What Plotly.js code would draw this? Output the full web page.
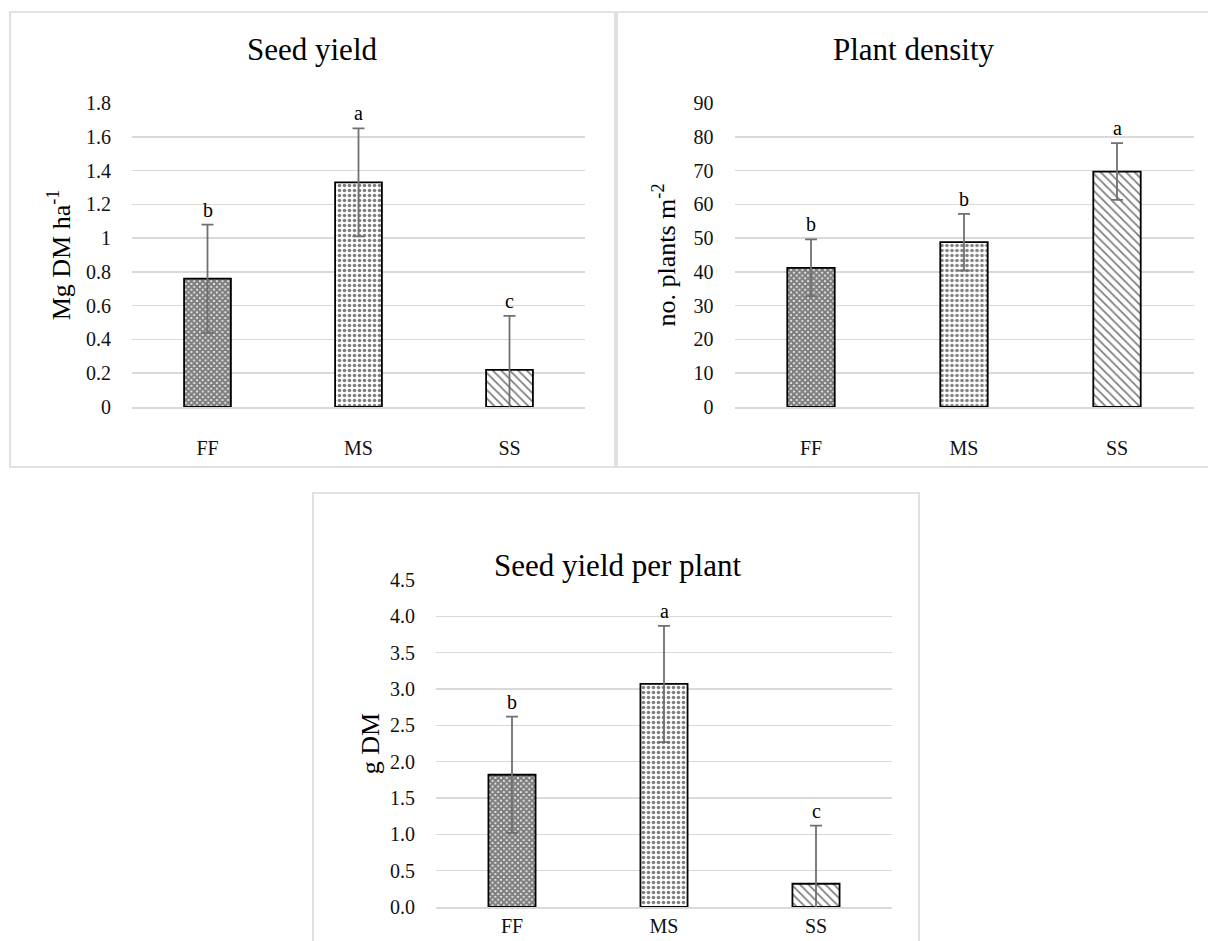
<!DOCTYPE html>
<html>
<head>
<meta charset="utf-8">
<script src="https://cdn.plot.ly/plotly-3.0.1.min.js"></script>
<style>
html,body{margin:0;padding:0;background:#fff;}
#chart{width:1208px;height:941px;}
</style>
</head>
<body>
<div id="chart"></div>
<script>
// ---- data ----
const categories = ["FF", "MS", "SS"];

const seedYield = [0.76, 1.33, 0.22];
const seedYieldErr = [0.32, 0.32, 0.32];
const seedYieldLetters = ["b", "a", "c"];

const plantDensity = [41.2, 48.8, 69.7];
const plantDensityErr = [8.4, 8.4, 8.4];
const plantDensityLetters = ["b", "b", "a"];

const seedPerPlant = [1.82, 3.07, 0.32];
const seedPerPlantErr = [0.8, 0.8, 0.8];
const seedPerPlantLetters = ["b", "a", "c"];

const panelTitles = ["Seed yield", "Plant density", "Seed yield per plant"];
const yTitles = ["Mg DM ha<sup>-1</sup>", "no. plants m<sup>-2</sup>", "g DM"];

// ---- styling ----
const W = 1208, H = 941;
const FONT = "'Liberation Serif', 'Times New Roman', serif";
const GRID = "#d9d9d9";
const px = v => v / W;
const py = v => 1 - v / H;

const patShapes = ["x", ".", "\\"];
const patSizes = [4, 5, 6];
const patSolid = [0.8, 0.4, 0.3];

function barTrace(vals, errs, xa, ya) {
  return {
    type: "bar",
    x: categories,
    y: vals,
    xaxis: xa, yaxis: ya,
    marker: {
      color: "#fff",
      line: {color: "#000", width: 1.8},
      pattern: {
        shape: patShapes, size: patSizes, solidity: patSolid,
        fgcolor: "#000", bgcolor: "#fff", fillmode: "overlay"
      }
    },
    error_y: {type: "data", array: errs, visible: true, color: "#707070", thickness: 1.8, width: 6},
    showlegend: false,
    hoverinfo: "skip"
  };
}

const data = [
  barTrace(seedYield, seedYieldErr, "x", "y"),
  barTrace(plantDensity, plantDensityErr, "x2", "y2"),
  barTrace(seedPerPlant, seedPerPlantErr, "x3", "y3")
];

function xaxisCfg(domain, anchor, standoff) {
  return {
    domain: domain, anchor: anchor,
    showgrid: false, showline: true, linecolor: GRID, linewidth: 1.5,
    ticks: "", tickfont: {family: FONT, size: 20, color: "#111"},
    ticklabelstandoff: standoff, fixedrange: true
  };
}
function yaxisCfg(domain, anchor, range, dtick, fmt, title, standoff) {
  return {
    domain: domain, anchor: anchor, range: range, dtick: dtick, tickformat: fmt,
    showgrid: true, gridcolor: GRID, gridwidth: 1.5,
    zeroline: false, showline: false, ticks: "",
    tickfont: {family: FONT, size: 20, color: "#111"},
    ticklabelstandoff: 20,
    title: {text: title, font: {family: FONT, size: 26, color: "#000"}, standoff: standoff},
    fixedrange: true
  };
}

const d1x = [px(132), px(585)], d1y = [py(407), py(103)];
const d2x = [px(734.5), px(1193.5)], d2y = [py(407), py(103)];
const d3x = [px(436), px(892)], d3y = [py(907), py(580)];

const annotations = [];
function letters(lbls, vals, errs, xr, yr) {
  lbls.forEach((t, i) => annotations.push({
    text: t, x: categories[i], y: vals[i] + errs[i], xref: xr, yref: yr,
    showarrow: false, yanchor: "bottom", yshift: 2,
    font: {family: FONT, size: 20, color: "#000"}
  }));
}
letters(seedYieldLetters, seedYield, seedYieldErr, "x", "y");
letters(plantDensityLetters, plantDensity, plantDensityErr, "x2", "y2");
letters(seedPerPlantLetters, seedPerPlant, seedPerPlantErr, "x3", "y3");

const titlePos = [[312, 49], [914, 49], [617, 565]];
panelTitles.forEach((t, i) => annotations.push({
  text: t, x: px(titlePos[i][0]), y: py(titlePos[i][1]), xref: "paper", yref: "paper",
  showarrow: false, xanchor: "center", yanchor: "middle",
  font: {family: FONT, size: 31, color: "#000"}
}));

const rects = [[10, 12, 615, 467], [617, 12, 1215, 467], [313, 493, 919, 960]];
const shapes = rects.map(r => ({
  type: "rect", xref: "paper", yref: "paper",
  x0: px(r[0]), x1: px(r[2]), y0: py(r[3]), y1: py(r[1]),
  line: {color: GRID, width: 1.6}, fillcolor: "rgba(0,0,0,0)", layer: "below"
}));

const layout = {
  width: W, height: H,
  margin: {l: 0, r: 0, t: 0, b: 0},
  paper_bgcolor: "#fff", plot_bgcolor: "rgba(0,0,0,0)",
  bargap: 0.69,
  font: {family: FONT},
  xaxis: xaxisCfg(d1x, "y", 22),
  yaxis: yaxisCfg(d1y, "x", [0, 1.8], 0.2, "", yTitles[0], 7),
  xaxis2: xaxisCfg(d2x, "y2", 22),
  yaxis2: yaxisCfg(d2y, "x2", [0, 90], 10, "", yTitles[1], 10),
  xaxis3: xaxisCfg(d3x, "y3", 0),
  yaxis3: yaxisCfg(d3y, "x3", [0, 4.5], 0.5, ".1f", yTitles[2], 2),
  annotations: annotations,
  shapes: shapes
};

Plotly.newPlot("chart", data, layout, {staticPlot: true});
</script>
</body>
</html>
